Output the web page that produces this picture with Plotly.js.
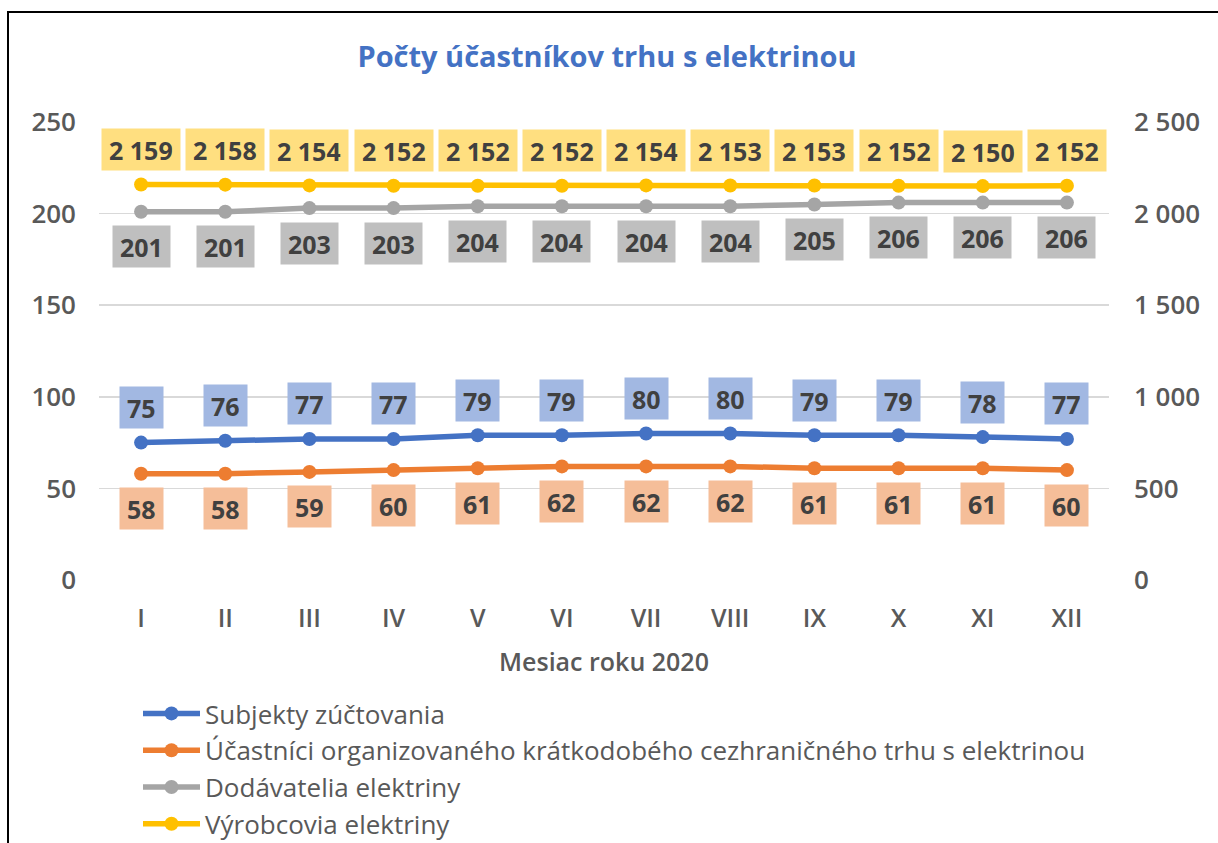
<!DOCTYPE html>
<html>
<head>
<meta charset="utf-8">
<script src="https://cdn.plot.ly/plotly-3.0.1.min.js"></script>
<style>html,body{margin:0;padding:0;background:#fff}#chart{width:1218px;height:843px}</style>
</head>
<body>
<div id="chart"></div>
<script>
const months = ["I","II","III","IV","V","VI","VII","VIII","IX","X","XI","XII"];
const subjektyZuctovania = [75,76,77,77,79,79,80,80,79,79,78,77];
const ucastniciTrhu = [58,58,59,60,61,62,62,62,61,61,61,60];
const dodavatelia = [201,201,203,203,204,204,204,204,205,206,206,206];
const vyrobcovia = [2159,2158,2154,2152,2152,2152,2154,2153,2153,2152,2150,2152];
const seriesNames = [
  "Subjekty zúčtovania",
  "Účastníci organizovaného krátkodobého cezhraničného trhu s elektrinou",
  "Dodávatelia elektriny",
  "Výrobcovia elektriny"
];

const FONT = "Open Sans, Liberation Sans, sans-serif";
const colors = ["#4472C4","#ED7D31","#A5A5A5","#FFC000"];
const labelBg = ["#A2B8E2","#F5BE99","#BFBFBF","#FFDF80"];
const seriesData = [subjektyZuctovania, ucastniciTrhu, dodavatelia, vyrobcovia];
const axisRefs = ["y","y","y","y2"];
const labelShift = [35,-35,-35,35];

function fmt(v){ return String(v).replace(/\B(?=(\d{3})+(?!\d))/g, "\u00a0"); }

const traces = seriesData.map((d,i)=>({
  type:"scatter", mode:"lines+markers", x:months, y:d, name:seriesNames[i],
  yaxis: axisRefs[i], legendgroup:"g"+i,
  line:{color:colors[i], width:5.5}, marker:{color:colors[i], size:14},
  cliponaxis:false
}));

const annotations = [];
seriesData.forEach((d,i)=>{
  d.forEach((v,j)=>{
    annotations.push({
      xref:"x", yref:axisRefs[i], x:months[j], y:v, text:fmt(v),
      showarrow:false, yshift:labelShift[i], bgcolor:labelBg[i],
      borderpad:7, height:27,
      font:{family:FONT, size:25, color:"#404040", weight:700}
    });
  });
});

const layout = {
  width:1218, height:843,
  margin:{l:99, r:109, t:122, b:263, autoexpand:false},
  paper_bgcolor:"#fff", plot_bgcolor:"#fff",
  showlegend:true,
  title:{text:"Počty účastníkov trhu s elektrinou", x:0.503, xref:"paper", y:1-57/843, yref:"container", yanchor:"middle",
    font:{family:FONT, size:29, color:"#4472C4", weight:700}},
  xaxis:{type:"category", range:[-0.5,11.5], showgrid:false, zeroline:false, showline:false, ticks:"",
    ticklabelstandoff:21, automargin:false,
    tickfont:{family:FONT, size:25, color:"#595959", weight:600},
    title:{text:"Mesiac roku 2020", standoff:20, font:{family:FONT, size:25, color:"#595959", weight:600}}},
  yaxis:{range:[0,250], dtick:50, showgrid:true, gridcolor:"#D9D9D9", gridwidth:1.5, zeroline:false, showline:false, ticks:"",
    automargin:false,
    ticklabelstandoff:22, tickfont:{family:FONT, size:26, color:"#595959", weight:600}},
  yaxis2:{range:[0,2500], dtick:500, overlaying:"y", side:"right", showgrid:false, zeroline:false, showline:false, ticks:"",
    automargin:false,
    separatethousands:true, tickformat:",d", ticklabelstandoff:24,
    tickfont:{family:FONT, size:26, color:"#595959", weight:600}},
  separators:", ",
  legend:{orientation:"v", x:(138-99)/1010, xanchor:"left", y:(580-690)/458, yanchor:"top",
    itemwidth:57, tracegroupgap:3, traceorder:"normal",
    font:{family:FONT, size:26, color:"#595959"}, bgcolor:"rgba(0,0,0,0)"},
  annotations: annotations,
  shapes:[{type:"rect", xref:"paper", yref:"paper", x0:(8-99)/1010, x1:(1222-99)/1010, y0:(580-860)/458, y1:(580-12)/458,
    line:{color:"#000", width:2}, fillcolor:"rgba(0,0,0,0)", layer:"below"}]
};

Plotly.newPlot("chart", traces, layout, {displayModeBar:false, staticPlot:true});
</script>
</body>
</html>
